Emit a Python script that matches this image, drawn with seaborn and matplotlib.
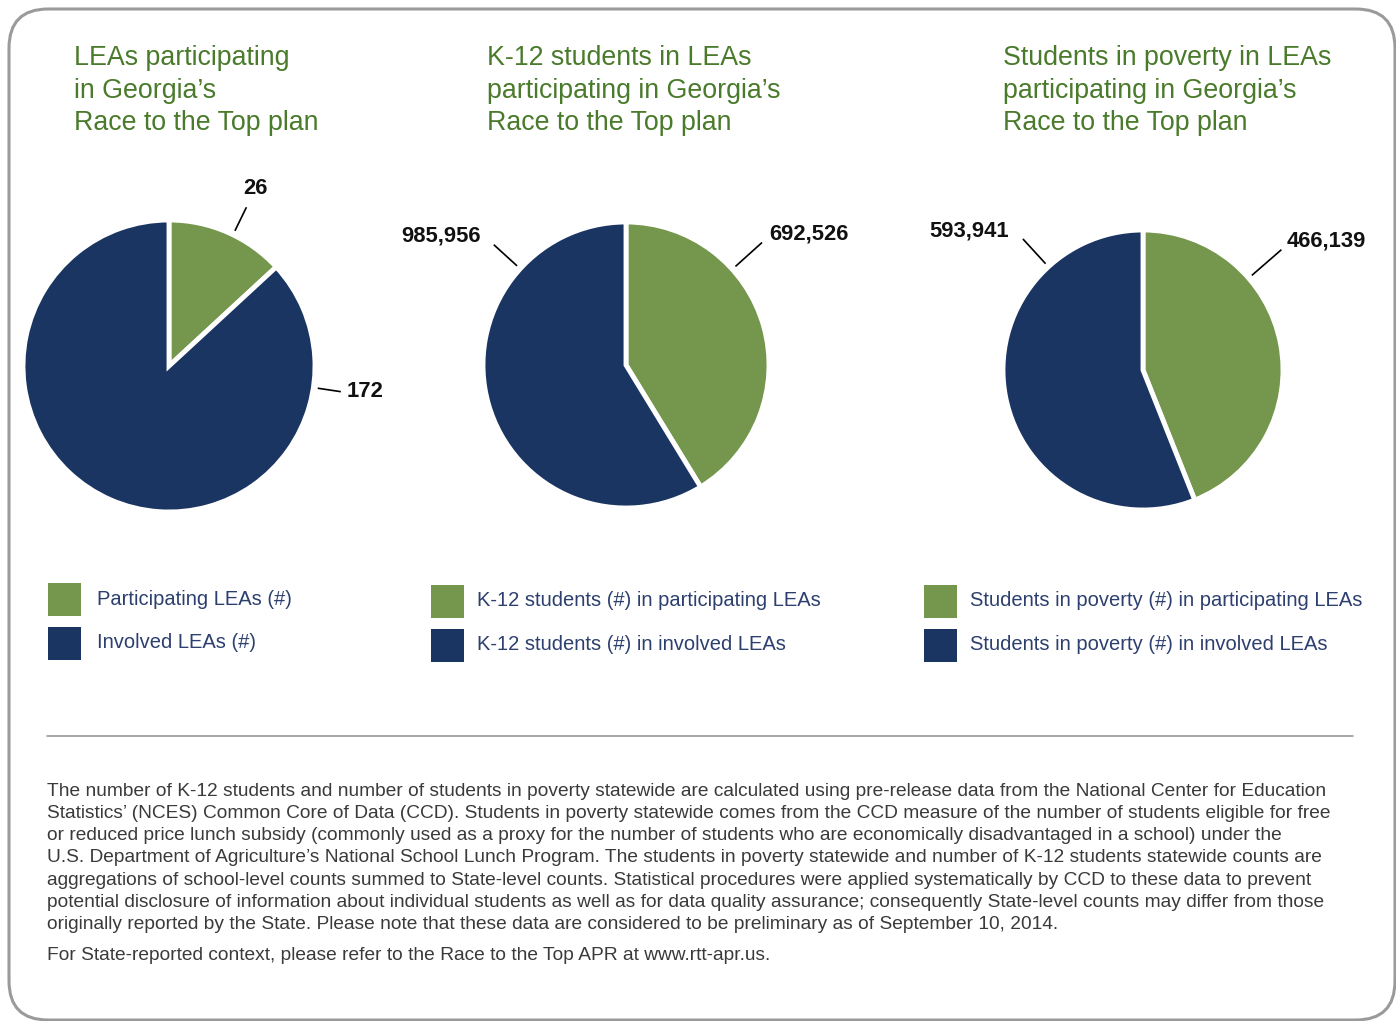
import numpy as np
import matplotlib
matplotlib.use("Agg")
import matplotlib.pyplot as plt
from matplotlib.patches import FancyBboxPatch, Rectangle
import seaborn as sns

sns.set_theme(style="white")
plt.rcParams['font.family'] = ['Liberation Sans', 'DejaVu Sans']

# ---------------- data ----------------
titles = [
    "LEAs participating\nin Georgia’s\nRace to the Top plan",
    "K-12 students in LEAs\nparticipating in Georgia’s\nRace to the Top plan",
    "Students in poverty in LEAs\nparticipating in Georgia’s\nRace to the Top plan",
]
lea_labels = ["Participating LEAs (#)", "Involved LEAs (#)"]
lea_values = [26, 172]
k12_labels = ["K-12 students (#) in participating LEAs", "K-12 students (#) in involved LEAs"]
k12_values = [692526, 985956]
pov_labels = ["Students in poverty (#) in participating LEAs", "Students in poverty (#) in involved LEAs"]
pov_values = [466139, 593941]

footnote_lines = [
    "The number of K-12 students and number of students in poverty statewide are calculated using pre-release data from the National Center for Education",
    "Statistics’ (NCES) Common Core of Data (CCD). Students in poverty statewide comes from the CCD measure of the number of students eligible for free",
    "or reduced price lunch subsidy (commonly used as a proxy for the number of students who are economically disadvantaged in a school) under the",
    "U.S. Department of Agriculture’s National School Lunch Program. The students in poverty statewide and number of K-12 students statewide counts are",
    "aggregations of school-level counts summed to State-level counts. Statistical procedures were applied systematically by CCD to these data to prevent",
    "potential disclosure of information about individual students as well as for data quality assurance; consequently State-level counts may differ from those",
    "originally reported by the State. Please note that these data are considered to be preliminary as of September 10, 2014.",
]
context_line = "For State-reported context, please refer to the Race to the Top APR at www.rtt-apr.us."

# ---------------- style ----------------
GREEN = "#75964D"
NAVY = "#1B3562"
TITLE_C = "#4A7A2B"
LEGEND_TXT = "#2C3F6E"
W, H = 1396, 1021

fig = plt.figure(figsize=(W / 100, H / 100), dpi=100)
fig.patch.set_facecolor("white")

def fx(x):
    return x / W

def fy(y):
    return 1 - y / H

# rounded border
border = FancyBboxPatch((fx(9), fy(1020)), fx(1395) - fx(9), fy(9) - fy(1020),
                        boxstyle="round,pad=0,rounding_size=0.028",
                        transform=fig.transFigure, fill=False,
                        edgecolor="#9a9a9a", linewidth=2.2,
                        mutation_aspect=W / H)
fig.patches.append(border)

# label style: (angle from 12 o'clock clockwise, line start r, line end r, text x-offset, text y-offset, ha)
pies = [
    dict(values=lea_values, labels=lea_labels, cx=169, cy=366, r=146,
         title_xy=(74, 57),
         lbl=[(26, 1.03, 1.21, None, None, 'center'), (98.5, 1.03, 1.19, 0.04, 0.0, 'left')],
         leg_x=48, leg_dx=49, leg_y=[583, 627]),
    dict(values=k12_values, labels=k12_labels, cx=626, cy=365, r=143,
         title_xy=(487, 57),
         lbl=[(48, 1.03, 1.28, 0.05, 0.06, 'left'), (-47.7, 1.03, 1.25, -0.09, 0.06, 'right')],
         leg_x=431, leg_dx=46, leg_y=[585, 629]),
    dict(values=pov_values, labels=pov_labels, cx=1143, cy=370, r=140,
         title_xy=(1003, 57),
         lbl=[(49, 1.03, 1.31, 0.04, 0.06, 'left'), (-42.5, 1.03, 1.27, -0.10, 0.06, 'right')],
         leg_x=924, leg_dx=46, leg_y=[585, 629]),
]

for t, p in zip(titles, pies):
    cx, cy, r = p["cx"], p["cy"], p["r"]
    ax = fig.add_axes([fx(cx - r), fy(cy + r), 2 * r / W, 2 * r / H])
    ax.pie(p["values"], colors=[GREEN, NAVY], startangle=90, counterclock=False,
           radius=1, wedgeprops=dict(edgecolor="white", linewidth=3.5))
    ax.set_xlim(-1, 1)
    ax.set_ylim(-1, 1)
    ax.set_aspect("equal")
    ax.axis("off")
    for val, (ang, r0, r1, ox, oy, ha) in zip(p["values"], p["lbl"]):
        a = np.deg2rad(ang)
        dx, dy = np.sin(a), np.cos(a)
        ax.plot([r0 * dx, r1 * dx], [r0 * dy, r1 * dy], color="black", lw=1.2,
                clip_on=False, solid_capstyle="butt")
        if ha == 'center':
            tx, ty = 1.35 * dx, 1.35 * dy
        else:
            tx, ty = r1 * dx + ox, r1 * dy + oy
        ax.text(tx, ty, f"{val:,}", ha=ha, va="center", fontsize=15.8,
                fontweight="bold", color="#111111", clip_on=False)
    # title
    tx, ty = p["title_xy"]
    fig.text(fx(tx), fy(ty - 12), t, fontsize=19.3, color=TITLE_C, va="top",
             ha="left", linespacing=1.33)
    # legend
    for col, lab, ly in zip([GREEN, NAVY], p["labels"], p["leg_y"]):
        fig.patches.append(Rectangle((fx(p["leg_x"]), fy(ly + 33)), 33 / W, 33 / H,
                                     transform=fig.transFigure, facecolor=col,
                                     edgecolor="none"))
        fig.text(fx(p["leg_x"] + p["leg_dx"]), fy(ly + 16), lab, fontsize=14.5,
                 color=LEGEND_TXT, va="center", ha="left")

# separator
fig.add_artist(plt.Line2D([fx(47), fx(1353)], [fy(736), fy(736)],
                          transform=fig.transFigure, color="#9a9a9a", lw=1.2))

for i, line in enumerate(footnote_lines):
    fig.text(fx(47), fy(791 + i * 22.3), line, fontsize=13.75, color="#3a3a3a",
             va="center", ha="left")
fig.text(fx(47), fy(955), context_line, fontsize=13.75, color="#3a3a3a",
         va="center", ha="left")

fig.savefig("out.png", dpi=100, facecolor="white")
